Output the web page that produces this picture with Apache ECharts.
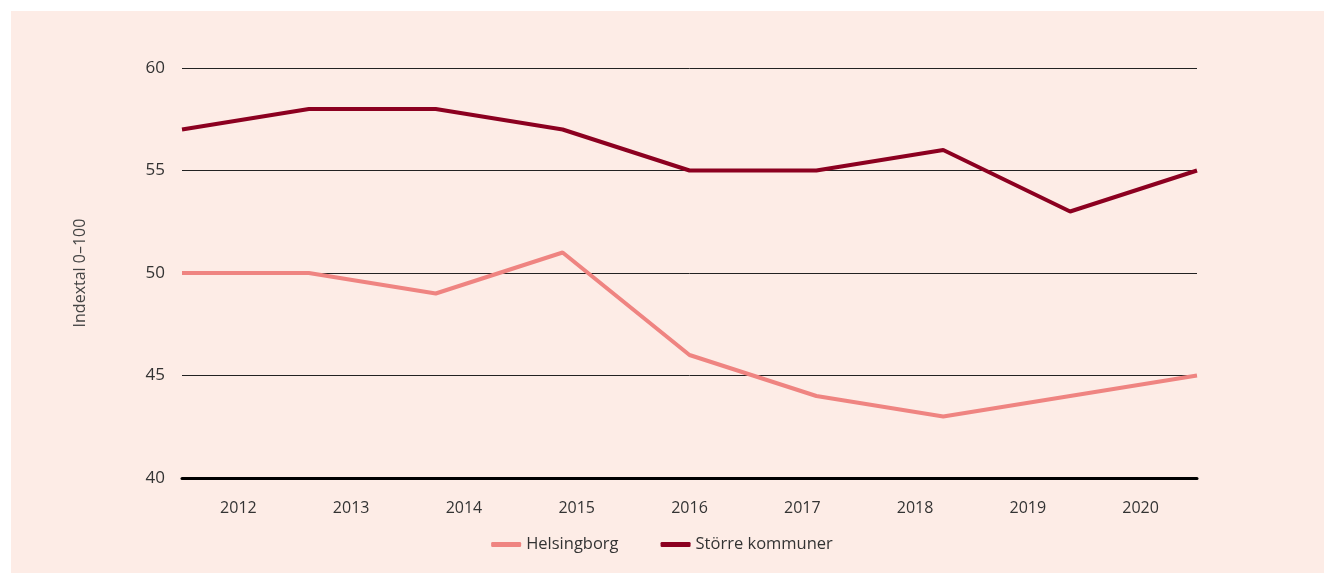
<!DOCTYPE html>
<html>
<head>
<meta charset="utf-8">
<script src="https://cdn.jsdelivr.net/npm/echarts@6/dist/echarts.min.js"></script>
<style>
  html, body { margin: 0; padding: 0; background: #fff; }
  #main { width: 1324px; height: 573px; }
</style>
</head>
<body>
<div id="main"></div>
<script>
const years = ['2012', '2013', '2014', '2015', '2016', '2017', '2018', '2019', '2020'];
const helsingborg = [50, 50, 49, 51, 46, 44, 43, 44, 45];
const storreKommuner = [57, 58, 58, 57, 55, 55, 56, 53, 55];

const chart = echarts.init(document.getElementById('main'));

const font = '"Open Sans", Lato, sans-serif';

var option = {
  backgroundColor: '#ffffff',
  animation: false,
  textStyle: { fontFamily: font },
  graphic: [{
    type: 'rect',
    z: -10,
    shape: { x: 11, y: 11, width: 1313, height: 562 },
    style: { fill: '#fdece6' }
  }],
  grid: {
    left: 182,
    right: 127,
    top: 68,
    bottom: 95
  },
  legend: {
    top: 531,
    left: 'center',
    itemWidth: 30,
    itemHeight: 5,
    itemGap: 42,
    textStyle: { fontSize: 16.5, color: '#333', fontFamily: font },
    data: [
      { name: 'Helsingborg', icon: 'roundRect' },
      { name: 'Större kommuner', icon: 'roundRect' }
    ]
  },
  xAxis: [{
    // points sit on the edges
    type: 'category',
    boundaryGap: false,
    data: years,
    show: false
  }, {
    // labels sit in the bands
    type: 'category',
    boundaryGap: true,
    data: years,
    position: 'bottom',
    axisLine: { show: true, lineStyle: { color: '#000', width: 3 } },
    axisTick: { show: false },
    axisLabel: { color: '#333', fontSize: 16, margin: 22, fontFamily: font }
  }],
  yAxis: {
    type: 'value',
    min: 40,
    max: 60,
    interval: 5,
    name: 'Indextal 0–100',
    nameLocation: 'middle',
    nameGap: 94,
    nameTextStyle: { color: '#444', fontSize: 16, fontFamily: font },
    axisLine: { show: false },
    axisTick: { show: false },
    axisLabel: { color: '#333', fontSize: 17, margin: 17, fontFamily: font },
    splitLine: { lineStyle: { color: '#222', width: 1 } }
  },
  series: [{
    name: 'Helsingborg',
    type: 'line',
    xAxisIndex: 0,
    data: helsingborg,
    symbol: 'none',
    color: '#ef8481',
    lineStyle: { width: 4, color: '#ef8481' }
  }, {
    name: 'Större kommuner',
    type: 'line',
    xAxisIndex: 0,
    data: storreKommuner,
    symbol: 'none',
    color: '#8c0020',
    lineStyle: { width: 4, color: '#8c0020' }
  }]
};

chart.setOption(option);
</script>
</body>
</html>
